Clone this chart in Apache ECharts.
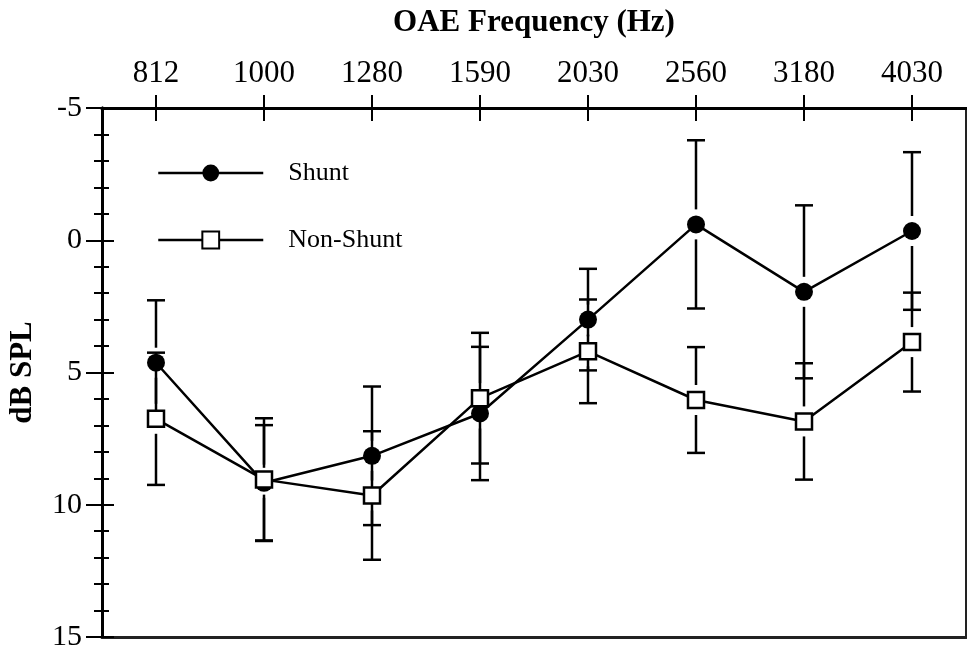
<!DOCTYPE html>
<html>
<head>
<meta charset="utf-8">
<script src="https://cdn.jsdelivr.net/npm/echarts@6/dist/echarts.min.js"></script>
<style>html,body{margin:0;padding:0;background:#fff;}#c{width:967px;height:650px;}</style>
</head>
<body>
<div id="c"></div>
<script>
const categories = ['812', '1000', '1280', '1590', '2030', '2560', '3180', '4030'];
const shuntMean = [4.63, 9.17, 8.15, 6.55, 3.0, -0.6, 1.95, -0.35];
const shuntErr = [2.36, 2.18, 2.62, 2.52, 1.92, 3.18, 3.27, 2.98];
const nonShuntMean = [6.75, 9.05, 9.65, 5.97, 4.2, 6.04, 6.85, 3.85];
const nonShuntErr = [2.5, 2.32, 2.43, 2.47, 1.96, 2.0, 2.2, 1.87];
const yTicks = [-5, 0, 5, 10, 15];

const FONT = 'Liberation Serif';
const chart = echarts.init(document.getElementById('c'));

function errData(mean, err) {
  return mean.map((m, i) => [i, m, err[i]]);
}
function errRender(params, api) {
  const i = api.value(0), m = api.value(1), e = api.value(2);
  const p = api.coord([i, m]);
  const hi = api.coord([i, m - e]);
  const lo = api.coord([i, m + e]);
  const gap = 15, cap = 9;
  const style = { stroke: '#000', lineWidth: 2.5 };
  const children = [];
  if (hi[1] < p[1] - gap) children.push({ type: 'line', shape: { x1: p[0], y1: hi[1], x2: p[0], y2: p[1] - gap }, style });
  if (lo[1] > p[1] + gap) children.push({ type: 'line', shape: { x1: p[0], y1: p[1] + gap, x2: p[0], y2: lo[1] }, style });
  children.push({ type: 'line', shape: { x1: p[0] - cap, y1: hi[1], x2: p[0] + cap, y2: hi[1] }, style });
  children.push({ type: 'line', shape: { x1: p[0] - cap, y1: lo[1], x2: p[0] + cap, y2: lo[1] }, style });
  return { type: 'group', children };
}

function yBase(extra) {
  return Object.assign({
    type: 'value', inverse: true, position: 'left',
    min: yTicks[0], max: yTicks[yTicks.length - 1], interval: 5,
    axisLabel: { show: false }, splitLine: { show: false }, minorSplitLine: { show: false }
  }, extra);
}

const gridRect = { left: 102, right: 1, top: 108, bottom: 13, show: false, containLabel: false, outerBoundsMode: 'none' };

const option = {
  animation: false,
  backgroundColor: '#fff',
  grid: [Object.assign({}, gridRect), Object.assign({}, gridRect)],
  legend: {
    data: ['Shunt', 'Non-Shunt'],
    orient: 'vertical',
    left: 152, top: 155,
    itemWidth: 105, itemHeight: 21, itemGap: 41,
    lineStyle: { width: 2.5 },
    textStyle: { fontFamily: FONT, fontSize: 26, color: '#000', padding: [0, 0, 0, 20] }
  },
  xAxis: [
    {
      gridIndex: 0, type: 'category', data: categories, position: 'top', boundaryGap: true,
      name: 'OAE Frequency (Hz)', nameLocation: 'middle', nameGap: 70,
      nameTextStyle: { fontFamily: FONT, fontSize: 31, fontWeight: 'bold', color: '#000' },
      axisLine: { show: true, onZero: false, lineStyle: { color: '#000', width: 3 } },
      axisTick: { show: true, alignWithLabel: true, length: 13, lineStyle: { color: '#000', width: 2 } },
      axisLabel: { fontFamily: FONT, fontSize: 31, color: '#000', margin: 19 },
      splitLine: { show: false }
    },
    {
      gridIndex: 0, type: 'category', data: categories, position: 'bottom', boundaryGap: true,
      axisLine: { show: true, onZero: false, lineStyle: { color: '#222', width: 3 } },
      axisTick: { show: false }, axisLabel: { show: false }, splitLine: { show: false }
    },
    {
      gridIndex: 1, type: 'category', data: categories, position: 'top', boundaryGap: true,
      axisLine: { show: true, onZero: false, lineStyle: { color: '#000', width: 3 } },
      axisTick: { show: true, inside: true, alignWithLabel: true, length: 13, lineStyle: { color: '#000', width: 2 } },
      axisLabel: { show: false },
      splitLine: { show: false }
    }
  ],
  yAxis: [
    yBase({
      gridIndex: 0,
      name: 'dB SPL', nameLocation: 'middle', nameGap: 64, nameRotate: 90,
      nameTextStyle: { fontFamily: FONT, fontSize: 31, fontWeight: 'bold', color: '#000' },
      axisLine: { show: true, onZero: false, lineStyle: { color: '#000', width: 3 } },
      axisTick: { show: true, length: 16, lineStyle: { color: '#000', width: 2 } },
      minorTick: { show: true, splitNumber: 5, length: 8, lineStyle: { color: '#000', width: 2 } },
      axisLabel: { show: true, fontFamily: FONT, fontSize: 30, color: '#000', margin: 20 }
    }),
    yBase({
      gridIndex: 0, position: 'right',
      axisLine: { show: true, onZero: false, lineStyle: { color: '#222', width: 2 } },
      axisTick: { show: false }
    }),
    yBase({
      gridIndex: 1, position: 'left',
      axisLine: { show: true, onZero: false, lineStyle: { color: '#000', width: 3 } },
      axisTick: { show: true, inside: true, length: 12, lineStyle: { color: '#000', width: 2 } },
      minorTick: { show: true, splitNumber: 5, length: 7, lineStyle: { color: '#000', width: 2 } }
    })
  ],
  series: [
    {
      type: 'line', name: 'helper', xAxisIndex: 2, yAxisIndex: 2,
      data: shuntMean, symbol: 'none', silent: true, z: 0,
      lineStyle: { opacity: 0, width: 0 }, itemStyle: { opacity: 0 }
    },
    {
      type: 'custom', name: 'ShuntErr', xAxisIndex: 0, yAxisIndex: 0, z: 1,
      renderItem: errRender, data: errData(shuntMean, shuntErr), silent: true
    },
    {
      type: 'custom', name: 'NonShuntErr', xAxisIndex: 0, yAxisIndex: 0, z: 1,
      renderItem: errRender, data: errData(nonShuntMean, nonShuntErr), silent: true
    },
    {
      type: 'line', name: 'Shunt', xAxisIndex: 0, yAxisIndex: 0, z: 3,
      data: shuntMean, symbol: 'circle', symbolSize: 18,
      itemStyle: { color: '#000' },
      lineStyle: { color: '#000', width: 2.5 }
    },
    {
      type: 'line', name: 'Non-Shunt', xAxisIndex: 0, yAxisIndex: 0, z: 4,
      data: nonShuntMean, symbol: 'rect', symbolSize: 16,
      itemStyle: { color: '#fff', borderColor: '#000', borderWidth: 2.5 },
      lineStyle: { color: '#000', width: 2.5 }
    }
  ]
};
chart.setOption(option);
</script>
</body>
</html>
